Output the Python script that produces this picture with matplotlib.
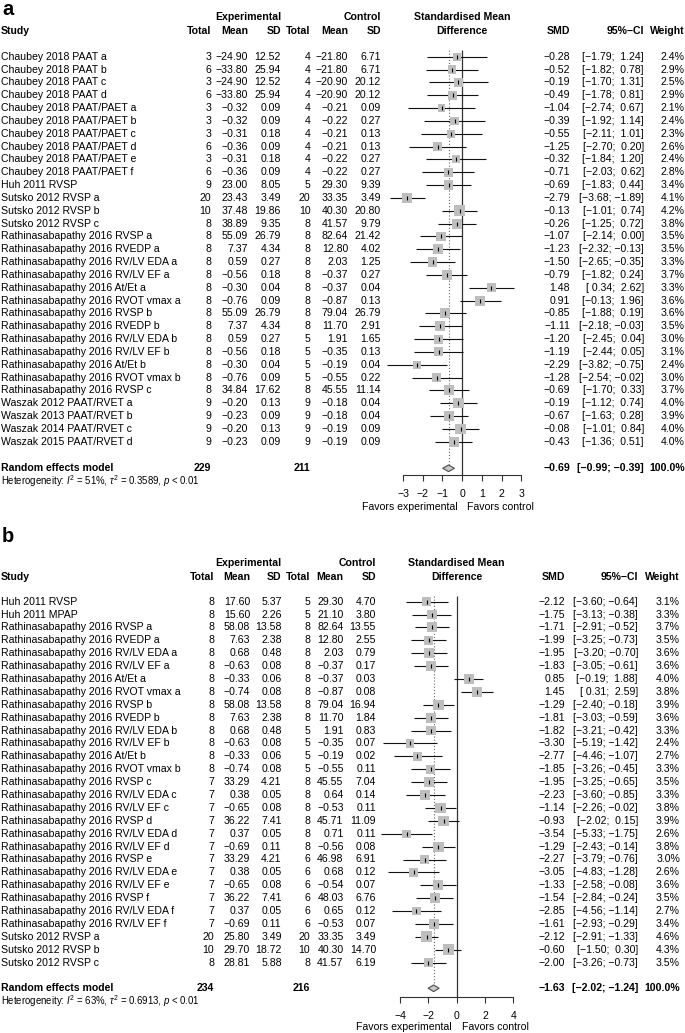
import matplotlib
matplotlib.use("Agg")
import matplotlib.pyplot as plt
from matplotlib.transforms import blended_transform_factory
import numpy as np

plt.rcParams['font.family'] = ['Liberation Sans', 'DejaVu Sans']
plt.rcParams['mathtext.fontset'] = 'custom'
plt.rcParams['mathtext.rm'] = 'Liberation Sans'
plt.rcParams['mathtext.it'] = 'Liberation Sans:italic'
plt.rcParams['mathtext.bf'] = 'Liberation Sans:bold'

# ---------------- Panel a data ----------------
a_study = [
    "Chaubey 2018 PAAT a", "Chaubey 2018 PAAT b", "Chaubey 2018 PAAT c", "Chaubey 2018 PAAT d",
    "Chaubey 2018 PAAT/PAET a", "Chaubey 2018 PAAT/PAET b", "Chaubey 2018 PAAT/PAET c",
    "Chaubey 2018 PAAT/PAET d", "Chaubey 2018 PAAT/PAET e", "Chaubey 2018 PAAT/PAET f",
    "Huh 2011 RVSP", "Sutsko 2012 RVSP a", "Sutsko 2012 RVSP b", "Sutsko 2012 RVSP c",
    "Rathinasabapathy 2016 RVSP a", "Rathinasabapathy 2016 RVEDP a",
    "Rathinasabapathy 2016 RV/LV EDA a", "Rathinasabapathy 2016 RV/LV EF a",
    "Rathinasabapathy 2016 At/Et a", "Rathinasabapathy 2016 RVOT vmax a",
    "Rathinasabapathy 2016 RVSP b", "Rathinasabapathy 2016 RVEDP b",
    "Rathinasabapathy 2016 RV/LV EDA b", "Rathinasabapathy 2016 RV/LV EF b",
    "Rathinasabapathy 2016 At/Et b", "Rathinasabapathy 2016 RVOT vmax b",
    "Rathinasabapathy 2016 RVSP c", "Waszak 2012 PAAT/RVET a", "Waszak 2013 PAAT/RVET b",
    "Waszak 2014 PAAT/RVET c", "Waszak 2015 PAAT/RVET d"]
a_exp_n = [3, 6, 3, 6, 3, 3, 3, 6, 3, 6, 9, 20, 10, 8, 8, 8, 8, 8, 8, 8, 8, 8, 8, 8, 8, 8, 8, 9, 9, 9, 9]
a_exp_mean = [-24.90, -33.80, -24.90, -33.80, -0.32, -0.32, -0.31, -0.36, -0.31, -0.36, 23.00, 23.43,
              37.48, 38.89, 55.09, 7.37, 0.59, -0.56, -0.30, -0.76, 55.09, 7.37, 0.59, -0.56, -0.30,
              -0.76, 34.84, -0.20, -0.23, -0.20, -0.23]
a_exp_sd = [12.52, 25.94, 12.52, 25.94, 0.09, 0.09, 0.18, 0.09, 0.18, 0.09, 8.05, 3.49, 19.86, 9.35,
            26.79, 4.34, 0.27, 0.18, 0.04, 0.09, 26.79, 4.34, 0.27, 0.18, 0.04, 0.09, 17.62, 0.13,
            0.09, 0.13, 0.09]
a_ctl_n = [4, 4, 4, 4, 4, 4, 4, 4, 4, 4, 5, 20, 10, 8, 8, 8, 8, 8, 8, 8, 8, 8, 5, 5, 5, 5, 8, 9, 9, 9, 9]
a_ctl_mean = [-21.80, -21.80, -20.90, -20.90, -0.21, -0.22, -0.21, -0.21, -0.22, -0.22, 29.30, 33.35,
              40.30, 41.57, 82.64, 12.80, 2.03, -0.37, -0.37, -0.87, 79.04, 11.70, 1.91, -0.35, -0.19,
              -0.55, 45.55, -0.18, -0.18, -0.19, -0.19]
a_ctl_sd = [6.71, 6.71, 20.12, 20.12, 0.09, 0.27, 0.13, 0.13, 0.27, 0.27, 9.39, 3.49, 20.80, 9.79,
            21.42, 4.02, 1.25, 0.27, 0.04, 0.13, 26.79, 2.91, 1.65, 0.13, 0.04, 0.22, 11.14, 0.04,
            0.04, 0.09, 0.09]
a_smd = [-0.28, -0.52, -0.19, -0.49, -1.04, -0.39, -0.55, -1.25, -0.32, -0.71, -0.69, -2.79, -0.13,
         -0.26, -1.07, -1.23, -1.50, -0.79, 1.48, 0.91, -0.85, -1.11, -1.20, -1.19, -2.29, -1.28,
         -0.69, -0.19, -0.67, -0.08, -0.43]
a_lo = [-1.79, -1.82, -1.70, -1.78, -2.74, -1.92, -2.11, -2.70, -1.84, -2.03, -1.83, -3.68, -1.01,
        -1.25, -2.14, -2.32, -2.65, -1.82, 0.34, -0.13, -1.88, -2.18, -2.45, -2.44, -3.82, -2.54,
        -1.70, -1.12, -1.63, -1.01, -1.36]
a_hi = [1.24, 0.78, 1.31, 0.81, 0.67, 1.14, 1.01, 0.20, 1.20, 0.62, 0.44, -1.89, 0.74, 0.72, 0.00,
        -0.13, -0.35, 0.24, 2.62, 1.96, 0.19, -0.03, 0.04, 0.05, -0.75, -0.02, 0.33, 0.74, 0.28,
        0.84, 0.51]
a_weight = [2.4, 2.9, 2.5, 2.9, 2.1, 2.4, 2.3, 2.6, 2.4, 2.8, 3.4, 4.1, 4.2, 3.8, 3.5, 3.5, 3.3, 3.7,
            3.3, 3.6, 3.6, 3.5, 3.0, 3.1, 2.4, 3.0, 3.7, 4.0, 3.9, 4.0, 4.0]
a_pooled = [-0.69, -0.99, -0.39]
a_totals = [229, 211]
a_het = ["51%", "0.3589", "< 0.01"]
a_ticks = [-3, -2, -1, 0, 1, 2, 3]

# ---------------- Panel b data ----------------
b_study = [
    "Huh 2011 RVSP", "Huh 2011 MPAP", "Rathinasabapathy 2016 RVSP a", "Rathinasabapathy 2016 RVEDP a",
    "Rathinasabapathy 2016 RV/LV EDA a", "Rathinasabapathy 2016 RV/LV EF a",
    "Rathinasabapathy 2016 At/Et a", "Rathinasabapathy 2016 RVOT vmax a",
    "Rathinasabapathy 2016 RVSP b", "Rathinasabapathy 2016 RVEDP b",
    "Rathinasabapathy 2016 RV/LV EDA b", "Rathinasabapathy 2016 RV/LV EF b",
    "Rathinasabapathy 2016 At/Et b", "Rathinasabapathy 2016 RVOT vmax b",
    "Rathinasabapathy 2016 RVSP c", "Rathinasabapathy 2016 RV/LV EDA c",
    "Rathinasabapathy 2016 RV/LV EF c", "Rathinasabapathy 2016 RVSP d",
    "Rathinasabapathy 2016 RV/LV EDA d", "Rathinasabapathy 2016 RV/LV EF d",
    "Rathinasabapathy 2016 RVSP e", "Rathinasabapathy 2016 RV/LV EDA e",
    "Rathinasabapathy 2016 RV/LV EF e", "Rathinasabapathy 2016 RVSP f",
    "Rathinasabapathy 2016 RV/LV EDA f", "Rathinasabapathy 2016 RV/LV EF f",
    "Sutsko 2012 RVSP a", "Sutsko 2012 RVSP b", "Sutsko 2012 RVSP c"]
b_exp_n = [8, 8, 8, 8, 8, 8, 8, 8, 8, 8, 8, 8, 8, 8, 7, 7, 7, 7, 7, 7, 7, 7, 7, 7, 7, 7, 20, 10, 8]
b_exp_mean = [17.60, 15.60, 58.08, 7.63, 0.68, -0.63, -0.33, -0.74, 58.08, 7.63, 0.68, -0.63, -0.33,
              -0.74, 33.29, 0.38, -0.65, 36.22, 0.37, -0.69, 33.29, 0.38, -0.65, 36.22, 0.37, -0.69,
              25.80, 29.70, 28.81]
b_exp_sd = [5.37, 2.26, 13.58, 2.38, 0.48, 0.08, 0.06, 0.08, 13.58, 2.38, 0.48, 0.08, 0.06, 0.08,
            4.21, 0.05, 0.08, 7.41, 0.05, 0.11, 4.21, 0.05, 0.08, 7.41, 0.05, 0.11, 3.49, 18.72, 5.88]
b_ctl_n = [5, 5, 8, 8, 8, 8, 8, 8, 8, 8, 5, 5, 5, 5, 8, 8, 8, 8, 8, 8, 6, 6, 6, 6, 6, 6, 20, 10, 8]
b_ctl_mean = [29.30, 21.10, 82.64, 12.80, 2.03, -0.37, -0.37, -0.87, 79.04, 11.70, 1.91, -0.35, -0.19,
              -0.55, 45.55, 0.64, -0.53, 45.71, 0.71, -0.56, 46.98, 0.68, -0.54, 48.03, 0.65, -0.53,
              33.35, 40.30, 41.57]
b_ctl_sd = [4.70, 3.80, 13.55, 2.55, 0.79, 0.17, 0.03, 0.08, 16.94, 1.84, 0.83, 0.07, 0.02, 0.11,
            7.04, 0.14, 0.11, 11.09, 0.11, 0.08, 6.91, 0.12, 0.07, 6.76, 0.12, 0.07, 3.49, 14.70, 6.19]
b_smd = [-2.12, -1.75, -1.71, -1.99, -1.95, -1.83, 0.85, 1.45, -1.29, -1.81, -1.82, -3.30, -2.77,
         -1.85, -1.95, -2.23, -1.14, -0.93, -3.54, -1.29, -2.27, -3.05, -1.33, -1.54, -2.85, -1.61,
         -2.12, -0.60, -2.00]
b_lo = [-3.60, -3.13, -2.91, -3.25, -3.20, -3.05, -0.19, 0.31, -2.40, -3.03, -3.21, -5.19, -4.46,
        -3.26, -3.25, -3.60, -2.26, -2.02, -5.33, -2.43, -3.79, -4.83, -2.58, -2.84, -4.56, -2.93,
        -2.91, -1.50, -3.26]
b_hi = [-0.64, -0.38, -0.52, -0.73, -0.70, -0.61, 1.88, 2.59, -0.18, -0.59, -0.42, -1.42, -1.07,
        -0.45, -0.65, -0.85, -0.02, 0.15, -1.75, -0.14, -0.76, -1.28, -0.08, -0.24, -1.14, -0.29,
        -1.33, 0.30, -0.73]
b_weight = [3.1, 3.3, 3.7, 3.5, 3.6, 3.6, 4.0, 3.8, 3.9, 3.6, 3.3, 2.4, 2.7, 3.3, 3.5, 3.3, 3.8, 3.9,
            2.6, 3.8, 3.0, 2.6, 3.6, 3.5, 2.7, 3.4, 4.6, 4.3, 3.5]
b_pooled = [-1.63, -2.02, -1.24]
b_totals = [234, 216]
b_het = ["63%", "0.6913", "< 0.01"]
b_ticks = [-4, -2, 0, 2, 4]

# ---------------- layout ----------------
W, H = 685, 1033
fig = plt.figure(figsize=(W / 100, H / 100), dpi=100)

FS = 7.55
SQ_COL = '#BEBEBE'
MINUS = '\u2212'


def f2(v):
    return f"{v:.2f}".replace('-', MINUS)


def fci(lo, hi):
    def p(v):
        s = f2(v)
        return s if v < 0 else ' ' + s
    return '[' + p(lo) + '; ' + p(hi) + ']'


def draw_panel(label, L, study, en, em, esd, cn, cm, csd, smd, lo, hi, wt, pooled, totals, het, ticks):
    r1, dr = L['row1'], L['dy']

    def ry(ypx):
        return 1 + (ypx - r1) / dr

    ax = fig.add_axes([L['axl'] / W, 1 - L['axis_y'] / H, (L['axr'] - L['axl']) / W,
                       (L['axis_y'] - L['top_y']) / H])
    ax.set_xlim((L['axl'] - L['x0']) / L['unit'], (L['axr'] - L['x0']) / L['unit'])
    ax.set_ylim(ry(L['axis_y']), ry(L['top_y']))
    ax.patch.set_alpha(0)
    for s in ['top', 'left', 'right']:
        ax.spines[s].set_visible(False)
    ax.spines['bottom'].set_bounds(ticks[0], ticks[-1])
    ax.spines['bottom'].set_color('#333333')
    ax.spines['bottom'].set_linewidth(0.8)
    ax.set_yticks([])
    ax.set_xticks(ticks)
    ax.set_xticklabels([str(t).replace('-', MINUS) for t in ticks], fontsize=FS)
    ax.tick_params(axis='x', direction='out', length=4.5, width=0.8, color='#333333', pad=5.5)

    n = len(study)
    rows = np.arange(1, n + 1)
    ytop = ry(L['top_y'])
    ypool = ry(L['pool_y'])

    # reference lines
    ax.vlines(0, ytop, ry(L['axis_y']), color='#333333', lw=0.9, zorder=1)
    ax.vlines(pooled[0], ytop, ypool, color='#666666', lw=0.8, linestyles=(0, (1, 1.8)), zorder=1)

    # CIs, squares, ticks
    ax.hlines(rows, lo, hi, color='#111111', lw=0.8, zorder=2, clip_on=False)
    side_pt = 5.2 * np.sqrt(np.array(wt)) * 0.72
    ax.scatter(smd, rows, s=side_pt ** 2, marker='s', color=SQ_COL, linewidths=0, zorder=3, clip_on=False)
    ax.scatter(smd, rows, s=(4 * 0.72) ** 2, marker='|', color='black', linewidths=0.8, zorder=4, clip_on=False)

    # diamond
    hh = 3.3 / dr
    ax.fill([pooled[1], pooled[0], pooled[2], pooled[0]], [ypool, ypool - hh, ypool, ypool + hh],
            facecolor='#C8C8C8', edgecolor='#4D4D4D', lw=0.8, zorder=3)

    C = L['cols']
    tr = blended_transform_factory(fig.transFigure, ax.transData)

    def T(xpx, y, s, ha='right', bold=False, size=FS, va='center', **kw):
        ax.text(xpx / W, y, s, transform=tr, ha=ha, va=va, fontsize=size,
                fontweight='bold' if bold else 'normal', clip_on=False, **kw)

    # panel label
    T(C['study'] + 1, ry(L['label_y']), label, ha='left', bold=True, size=14.5, va='baseline')
    # headers
    h1, h2 = ry(L['hdr1']), ry(L['hdr2'])
    T(C['esd'], h1, 'Experimental', bold=True)
    T(C['csd'], h1, 'Control', bold=True)
    T(L['x0'], h1, 'Standardised Mean', ha='center', bold=True)
    T(L['x0'], h2, 'Difference', ha='center', bold=True)
    T(C['study'], h2, 'Study', ha='left', bold=True)
    T(C['en'], h2, 'Total', bold=True)
    T(C['em'], h2, 'Mean', bold=True)
    T(C['esd'], h2, 'SD', bold=True)
    T(C['cn'], h2, 'Total', bold=True)
    T(C['cm'], h2, 'Mean', bold=True)
    T(C['csd'], h2, 'SD', bold=True)
    T(C['smd'], h2, 'SMD', bold=True)
    T(C['ci'], h2, '95%' + MINUS + 'CI', bold=True)
    T(C['w'], h2, 'Weight', bold=True)

    for i in range(n):
        y = rows[i]
        T(C['study'], y, study[i], ha='left')
        T(C['en'], y, str(en[i]))
        T(C['em'], y, f2(em[i]))
        T(C['esd'], y, f2(esd[i]))
        T(C['cn'], y, str(cn[i]))
        T(C['cm'], y, f2(cm[i]))
        T(C['csd'], y, f2(csd[i]))
        T(C['smd'], y, f2(smd[i]))
        T(C['ci'], y, fci(lo[i], hi[i]))
        T(C['w'], y, f"{wt[i]:.1f}%")

    # pooled row
    T(C['study'], ypool, 'Random effects model', ha='left', bold=True)
    T(C['en'], ypool, str(totals[0]), bold=True)
    T(C['cn'], ypool, str(totals[1]), bold=True)
    T(C['smd'], ypool, f2(pooled[0]), bold=True)
    T(C['ci'], ypool, fci(pooled[1], pooled[2]), bold=True)
    T(C['w'], ypool, '100.0%', bold=True)
    T(C['study'], ry(L['het_y']),
      r'Heterogeneity: $I^2$ = ' + het[0] + r', $\tau^2$ = ' + het[1] + r', $p$ ' + het[2],
      ha='left', size=6.9)

    # favors labels
    fy = ry(L['fav_y'])
    T(L['x0'] - 5, fy, 'Favors experimental', ha='right')
    T(L['x0'] + 5, fy, 'Favors control', ha='left')


A_L = dict(row1=56.8, dy=12.83, top_y=50, axis_y=475, pool_y=468.3, het_y=480.7,
           hdr1=17.3, hdr2=31, label_y=14.8, fav_y=506.5,
           x0=462.2, unit=19.73, axl=370, axr=560,
           cols=dict(study=1, en=211, em=248, esd=281, cn=310.5, cm=348, csd=381,
                     smd=570, ci=644, w=684.5))
B_L = dict(row1=601.7, dy=12.89, top_y=596, axis_y=996.7, pool_y=988.3, het_y=1000.7,
           hdr1=563, hdr2=577, label_y=541.7, fav_y=1026.5,
           x0=456.7, unit=14.16, axl=370, axr=560,
           cols=dict(study=1, en=214, em=250, esd=281.7, cn=310, cm=343.5, csd=376,
                     smd=565, ci=638, w=680))

draw_panel('a', A_L, a_study, a_exp_n, a_exp_mean, a_exp_sd, a_ctl_n, a_ctl_mean, a_ctl_sd,
           a_smd, a_lo, a_hi, a_weight, a_pooled, a_totals, a_het, a_ticks)
draw_panel('b', B_L, b_study, b_exp_n, b_exp_mean, b_exp_sd, b_ctl_n, b_ctl_mean, b_ctl_sd,
           b_smd, b_lo, b_hi, b_weight, b_pooled, b_totals, b_het, b_ticks)

fig.savefig('out.png', dpi=100, facecolor='white')
